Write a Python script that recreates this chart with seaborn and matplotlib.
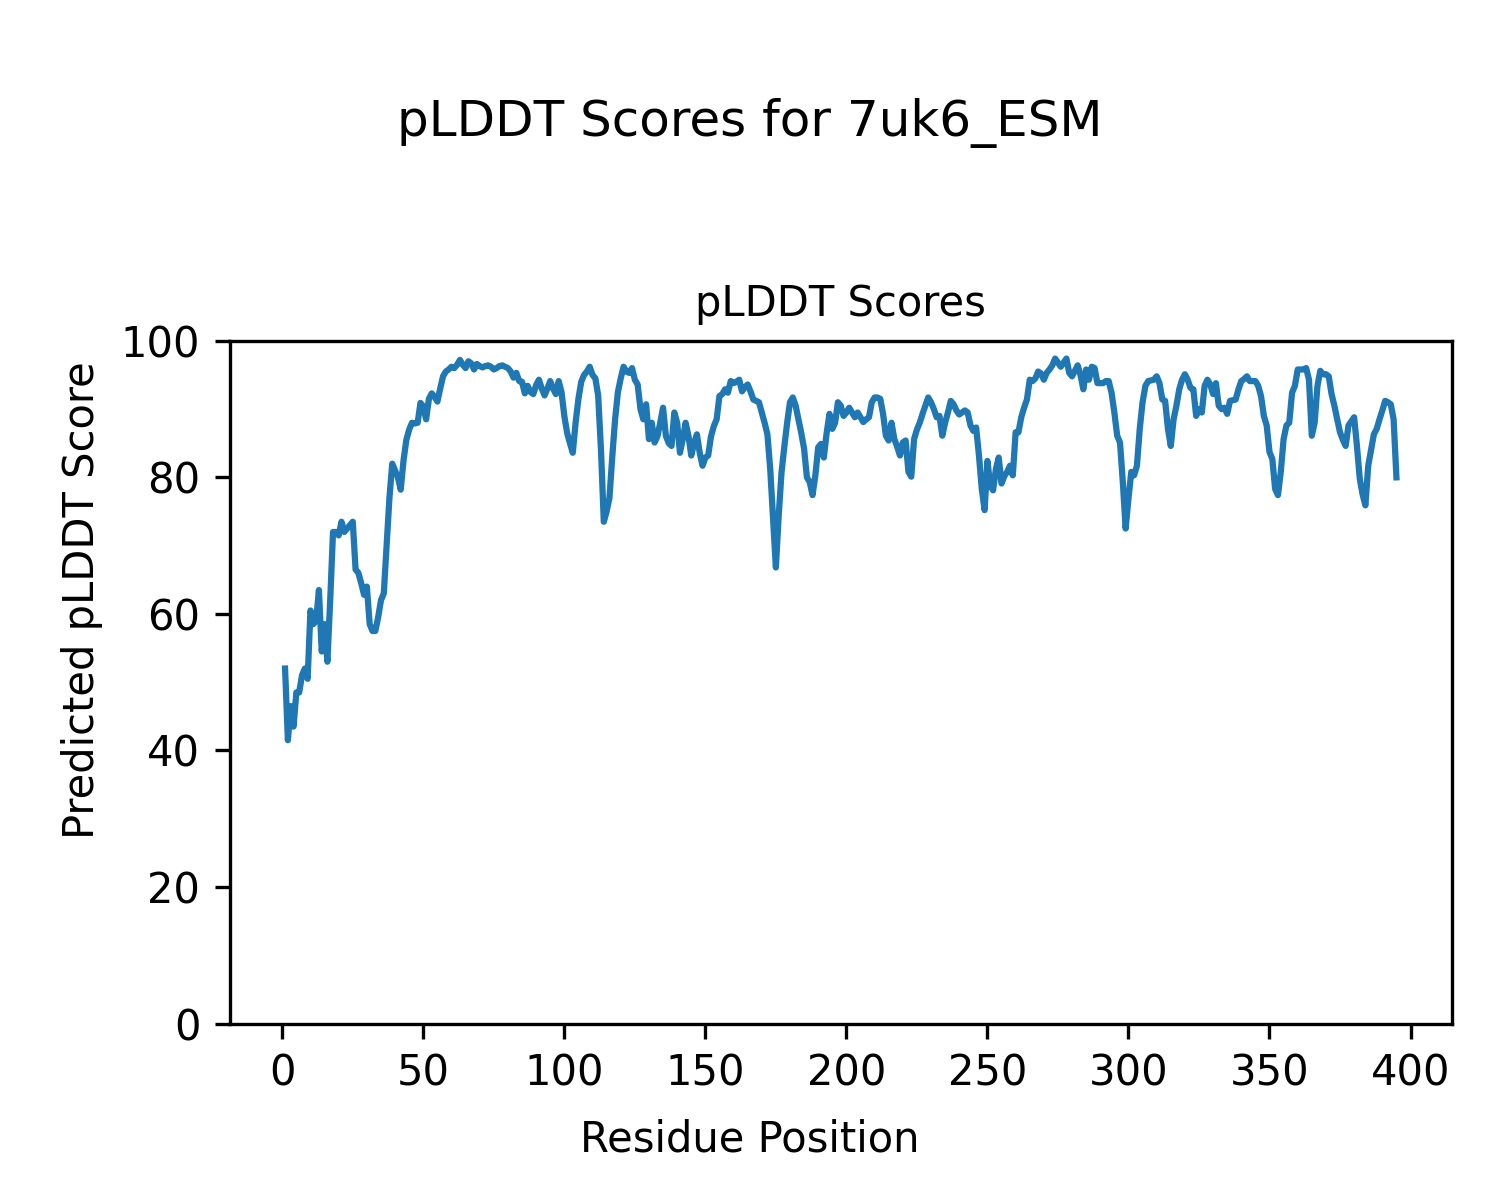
import numpy as np
import pandas as pd
import matplotlib
matplotlib.use("Agg")
import matplotlib.pyplot as plt
import seaborn as sns

protein_name = "7uk6_ESM"

# per-residue pLDDT values (residues 1..395)
plddt_scores = [
    52, 41.5, 46.5, 43.5, 48.5, 48.5, 51, 52, 50.5, 60.5,
    58.5, 59, 63.5, 54.5, 58.5, 53, 62, 72, 72, 71.5,
    73.5, 72, 72.5, 73, 73.5, 66.5, 66, 64.5, 62.8, 64,
    58.5, 57.5, 57.5, 59.5, 62, 63, 70, 77, 82, 81,
    80, 78.2, 82.5, 85.5, 87, 88, 87.9, 88, 90.9, 90.4,
    88.5, 91.5, 92.3, 91.8, 91.1, 93, 94.8, 95.5, 95.8, 96.2,
    96, 96.5, 97.2, 96.5, 96, 97, 96.7, 95.8, 96.6, 96.3,
    96.1, 96.3, 96.4, 96.2, 95.8, 96, 96.3, 96.4, 96.2, 96,
    95.5, 94.6, 95.3, 94.1, 94, 92.3, 93.4, 92.5, 92.2, 93.5,
    94.3, 93, 92, 93, 94.1, 93, 92.2, 94.1, 92.5, 89,
    86.5, 85, 83.6, 88, 91.5, 94, 95, 95.5, 96.2, 95,
    94.5, 92, 84, 73.5, 75, 77, 83, 88.5, 92.5, 94.5,
    96.2, 95.5, 95.3, 96, 94.3, 93.6, 90, 88.5, 90.7, 85.6,
    88, 85.1, 86, 88, 90.2, 86.1, 85, 84.6, 89.5, 88,
    83.6, 85.6, 88, 86.1, 83.2, 85, 86.3, 83.6, 81.7, 82.9,
    83.2, 86, 87.5, 88.5, 91.9, 92.2, 92.9, 92.4, 94.1, 93.8,
    94, 94.3, 92.6, 93.2, 93.6, 92.6, 91.4, 91.2, 91, 89.5,
    88, 86.3, 81.2, 74, 66.8, 74.4, 80.7, 84.5, 88, 91,
    91.7, 90.5, 88.5, 86.5, 84.2, 80, 79.3, 77.4, 80.3, 84.4,
    84.9, 82.9, 86.5, 89.3, 87.1, 88, 91, 90.5, 89, 89.5,
    90.2, 89.5, 88.8, 89.5, 88.8, 88.1, 88.5, 88.8, 91, 91.7,
    91.7, 91.5, 89.3, 86.1, 85.4, 88, 85.6, 84.5, 83.2, 85.1,
    85.4, 80.8, 80.1, 85.6, 87, 88, 89.3, 90.5, 91.7, 91,
    90, 88.8, 89, 86.1, 88, 89.5, 91.2, 90.7, 89.8, 89.2,
    89.5, 89.8, 89.5, 87.6, 86.8, 87.3, 83.2, 78.3, 75.2, 82.4,
    78.8, 78.1, 81.2, 82.9, 79.1, 80.2, 80.8, 81.7, 80.3, 86.6,
    86.6, 88.8, 90.2, 91.4, 94.3, 94.1, 94.5, 95.5, 95.2, 94.3,
    95.3, 95.8, 96.4, 97.4, 96.8, 96.2, 96.8, 97.4, 95.3, 94.8,
    95.6, 96.4, 95, 92.9, 95.8, 94.3, 96.2, 96, 93.8, 93.8,
    93.8, 94.1, 94.1, 92.4, 89.5, 86.1, 85.1, 79.3, 72.5, 76.9,
    80.8, 80.3, 81.7, 87.1, 91, 93.4, 94.1, 94.2, 94.3, 94.8,
    93.8, 91.4, 91.2, 87.1, 84.6, 88.5, 90.5, 92.9, 94.3, 95.1,
    94.3, 93.1, 92.9, 89, 90, 89.5, 93.4, 94.3, 93.6, 92.2,
    93.8, 90.5, 90, 90.2, 89.3, 91.2, 91.3, 91.4, 92.9, 94.1,
    94.4, 94.8, 94.1, 94.1, 94.1, 93.4, 91.9, 89, 87.6, 83.7,
    82.7, 78.3, 77.4, 80.8, 85.6, 87.6, 88, 92.4, 93.4, 95.8,
    95.8, 95.8, 96, 94.3, 86.1, 88, 93.4, 95.6, 95.1, 95.1,
    94.8, 92.2, 90.5, 88.5, 86.6, 85.5, 84.6, 87.6, 88.2, 88.8,
    84.6, 79.8, 77.5, 75.9, 81.7, 84, 86.3, 87.1, 88.5, 89.8,
    91.2, 91, 90.7, 88.5, 80,
]
residues = np.arange(1, len(plddt_scores) + 1)

df = pd.DataFrame({"Residue": residues, "pLDDT": plddt_scores})

fig, ax = plt.subplots(figsize=(5, 4), dpi=300)
sns.lineplot(data=df, x="Residue", y="pLDDT", ax=ax, color="#1f77b4", linewidth=1.5)

ax.set_ylim(0, 100)
ax.set_xticks(range(0, 401, 50))
ax.set_yticks(range(0, 101, 20))
ax.tick_params(labelsize=10)
ax.set_title("pLDDT Scores", fontsize=10)
ax.set_xlabel("")
ax.set_ylabel("")

# figure-level labels, centred on the whole figure like the original
fig.text(0.5, 0.04, "Residue Position", fontsize=10, ha="center", va="baseline")
fig.text(0.055, 0.5, "Predicted pLDDT Score", fontsize=10, rotation=90,
         ha="center", va="center")
fig.suptitle(f"pLDDT Scores for {protein_name}", fontsize=12, y=0.918, va="top")

fig.subplots_adjust(left=0.153, right=0.968, bottom=0.147, top=0.716)
fig.savefig("out.png", dpi=300)
